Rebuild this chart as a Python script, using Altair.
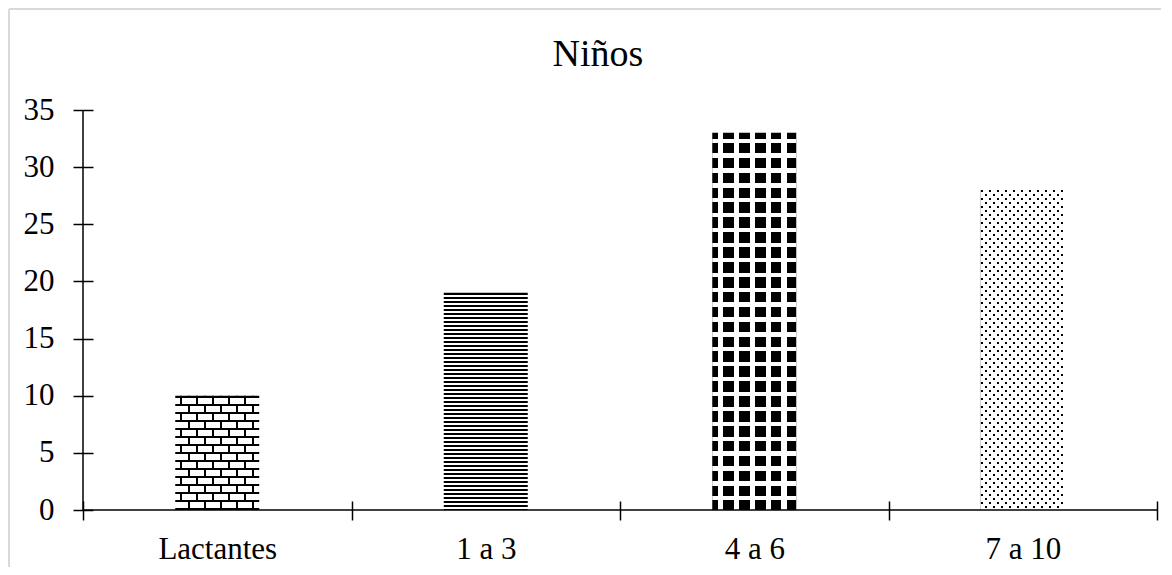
import math
import altair as alt
import pandas as pd

# ---- data ----
categories = ["Lactantes", "1 a 3", "4 a 6", "7 a 10"]
values = [10, 19, 33, 28]
y_ticks = [0, 5, 10, 15, 20, 25, 30, 35]
title_text = "Niños"

# ---- style constants ----
FONT = "Liberation Serif"
PLOT_W = 1074
PLOT_H = 400
Y_MAX = 35
BAR_W = 84
BLACK = "#000000"
WHITE = "#ffffff"
CLEAR = "rgba(255,255,255,0)"

df = pd.DataFrame({"cat": categories, "v": values})
bar_h = {c: v * PLOT_H / Y_MAX for c, v in zip(categories, values)}


def stripes(axis, w, h, period, on_start, on_width, on_color, off_color):
    """Linear gradient made of hard-edged stripes (pattern-like fill)."""
    if axis == "x":
        c0, L = 0.0, float(w)
        vec = dict(x1=0, y1=0, x2=1, y2=0)
    elif axis == "y":
        c0, L = 0.0, float(h)
        vec = dict(x1=0, y1=0, x2=0, y2=1)
    elif axis == "sum":  # isolines x + y = const (45 deg in pixel space)
        c = (w + h) / (w * w + h * h)
        c0, L = 0.0, float(w + h)
        vec = dict(x1=0, y1=0, x2=c * w, y2=c * h)
    else:  # "diff": isolines x - y = const
        c = (w + h) / (w * w + h * h)
        c0, L = -float(h), float(w + h)
        vec = dict(x1=0, y1=1, x2=c * w, y2=1 - c * h)

    def is_on(p):
        return ((p - on_start) % period) < on_width

    bounds = []
    k = math.floor((c0 - on_start) / period) - 1
    while True:
        s = on_start + k * period
        if s > c0 + L:
            break
        for b in (s, s + on_width):
            if c0 < b < c0 + L:
                bounds.append(b)
        k += 1
    bounds.sort()
    cur = on_color if is_on(c0 + 1e-9) else off_color
    stops = [alt.GradientStop(offset=0, color=cur)]
    for b in bounds:
        off = round((b - c0) / L, 6)
        nxt = on_color if is_on(b + 1e-9) else off_color
        stops.append(alt.GradientStop(offset=off, color=cur))
        stops.append(alt.GradientStop(offset=off, color=nxt))
        cur = nxt
    stops.append(alt.GradientStop(offset=1, color=cur))
    return alt.LinearGradient(gradient="linear", stops=stops, **vec)


# pattern layers per category (drawn bottom to top)
patterns = {}
w = BAR_W
# bricks
h = bar_h["Lactantes"]
ox = 5
patterns["Lactantes"] = [
    stripes("x", w, h, 8, ox, 2, BLACK, WHITE),
    stripes("diff", w, h, 16, ox, 8, WHITE, CLEAR),
    stripes("y", w, h, 8, 0, 2, BLACK, CLEAR),
]
# horizontal lines
h = bar_h["1 a 3"]
patterns["1 a 3"] = [stripes("y", w, h, 4, 0, 2, BLACK, WHITE)]
# checker of dark blocks
h = bar_h["4 a 6"]
blk = 10.6
patterns["4 a 6"] = [
    stripes("x", w, h, 15.8, 0.6 - blk / 2, blk, BLACK, WHITE),
    stripes("y", w, h, 14.9, 0.4 - blk / 2, blk, CLEAR, WHITE),
]
# fine staggered dots
h = bar_h["7 a 10"]
patterns["7 a 10"] = [
    stripes("x", w, h, 4, 0, 2, BLACK, WHITE),
    stripes("y", w, h, 4, 0, 2, CLEAR, WHITE),
    stripes("diff", w, h, 8, 2, 4, WHITE, CLEAR),
]

x_enc = alt.X(
    "cat:N",
    sort=categories,
    title=None,
    scale=alt.Scale(paddingInner=0, paddingOuter=0),
    axis=alt.Axis(
        labelAngle=0,
        tickBand="extent",
        offset=-9,
        tickSize=19,
        tickWidth=1.5,
        tickColor=BLACK,
        domain=False,
        grid=False,
        labelPadding=14,
        labelFont=FONT,
        labelFontSize=31,
        labelColor=BLACK,
    ),
)
y_enc = alt.Y(
    "v:Q",
    title=None,
    scale=alt.Scale(domain=[0, Y_MAX], nice=False),
    axis=alt.Axis(
        values=y_ticks,
        offset=-10,
        tickSize=20,
        tickWidth=1.5,
        tickColor=BLACK,
        domain=False,
        grid=False,
        labelPadding=19,
        labelFont=FONT,
        labelFontSize=31,
        labelColor=BLACK,
    ),
)

base = alt.Chart(df).encode(x=x_enc, y=y_enc)

layers = []
for c in categories:
    for grad in patterns[c]:
        layers.append(
            base.mark_bar(size=BAR_W, fill=grad, opacity=1, strokeWidth=0)
            .transform_filter(alt.datum.cat == c)
        )

one = pd.DataFrame({"k": [0]})
x_line = alt.Chart(one).mark_rule(color=BLACK, strokeWidth=1.5).encode(y=alt.datum(0))
y_line = alt.Chart(one).mark_rule(color=BLACK, strokeWidth=1.5).encode(
    x=alt.value(0), y=alt.datum(0), y2=alt.datum(Y_MAX)
)
frame_top = alt.Chart(one).mark_rule(color="#d9d9d9", strokeWidth=2).encode(
    x=alt.value(-74), x2=alt.value(1078), y=alt.value(-101)
)
frame_left = alt.Chart(one).mark_rule(color="#d9d9d9", strokeWidth=2).encode(
    x=alt.value(-74), y=alt.value(-101), y2=alt.value(457)
)
title = alt.Chart(pd.DataFrame({"t": [title_text]})).mark_text(
    font=FONT, fontSize=38, align="center", baseline="alphabetic", color=BLACK
).encode(text="t:N", x=alt.value(515), y=alt.value(-44))

chart = (
    alt.layer(frame_top, frame_left, *layers, x_line, y_line, title)
    .properties(width=PLOT_W, height=PLOT_H, padding=0, background="white")
    .configure_view(strokeWidth=0)
)

chart.save("out.html", embed_options={"renderer": "svg", "actions": False})
